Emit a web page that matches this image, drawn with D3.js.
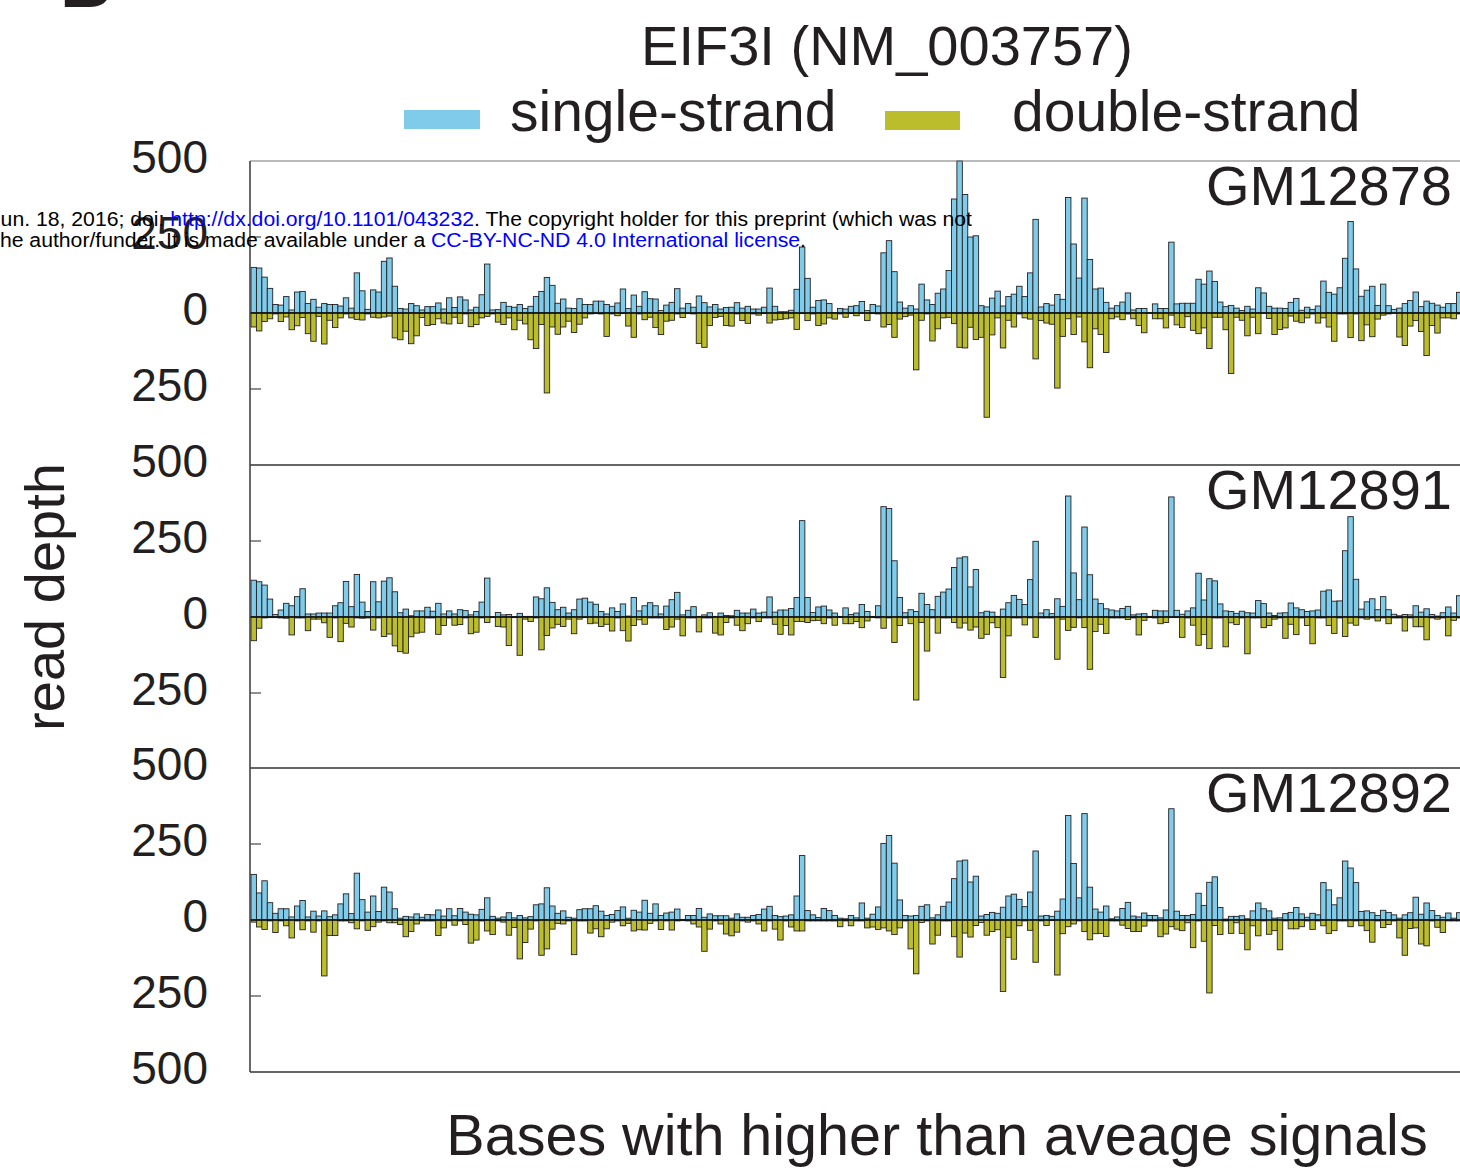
<!DOCTYPE html>
<html>
<head>
<meta charset="utf-8">
<script src="https://cdn.jsdelivr.net/npm/d3@7"></script>
<style>
body { margin: 0; background: #fff; }
svg { display: block; font-family: "Liberation Sans", Arial, sans-serif; }
</style>
</head>
<body>
<div id="chart"></div>
<script>
// read depth per base, one value per bar, three cell lines
const samples = ["GM12878", "GM12891", "GM12892"]
const seriesNames = ["single-strand", "double-strand"]

const ss1 = [150,148,118,81,28,26,54,10,69,71, 31,45,19,31,28,28,23,50,16,132, 73,12,76,69,170,181,88,15,13,31,
  24,10,21,21,33,13,50,18,53,43, 10,19,60,161,10,11,35,22,19,28, 15,22,54,71,117,91,32,46,16,15,
  47,28,28,39,39,28,22,33,79,15, 59,22,70,47,46,8,26,35,80,16, 31,19,56,34,20,28,13,18,19,34,
  16,22,13,13,19,82,22,4,4,9, 78,217,114,19,41,43,31,1,15,13, 22,24,38,8,28,23,198,238,136,36,
  16,24,13,95,43,28,65,79,140,375, 500,390,250,254,24,20,49,72,23,54, 62,88,54,132,308,20,31,26,61,45,
  380,227,115,378,176,79,82,35,16,24, 36,66,10,15,15,1,30,15,15,233, 30,32,32,32,111,95,138,104,36,21,
  25,16,8,22,13,83,66,22,16,16, 15,35,48,9,19,12,23,105,68,62, 83,180,301,145,55,75,88,25,95,24,
  12,16,31,41,69,21,39,32,26,19, 31,31,68]
const ds1 = [46,59,28,19,3,28,13,55,42,15, 68,93,11,102,24,48,16,3,16,21, 23,3,14,16,13,10,82,88,60,101,
  75,15,41,38,19,33,36,14,34,3, 45,38,16,11,3,30,38,16,55,24, 36,88,117,38,263,46,70,46,27,64,
  37,16,3,2,3,77,3,9,2,43, 80,3,22,14,48,71,27,24,3,15, 2,3,100,113,41,15,11,41,43,3,
  25,34,3,7,2,33,23,21,19,16, 54,2,25,3,41,36,16,20,3,14, 2,9,1,25,2,3,46,38,80,20,
  12,7,187,24,3,92,52,16,14,35, 113,115,47,87,80,343,72,16,115,24, 46,3,16,20,151,25,33,37,247,77,
  19,71,13,95,180,52,71,130,19,13, 22,3,19,41,65,1,19,19,49,7, 39,48,12,57,68,49,117,14,14,55,
  199,14,24,75,14,68,1,18,71,54, 49,10,27,32,16,3,33,16,46,93, 3,3,81,3,91,39,78,20,7,3,
  1,79,107,43,25,61,140,41,66,16, 16,19,3]

const ss2 = [121,116,105,59,8,23,45,37,67,93, 10,10,13,13,13,37,47,117,34,140, 49,18,116,50,118,129,83,14,26,4,
  20,20,32,19,45,10,20,10,24,21, 7,18,49,128,1,15,7,8,1,12, 2,2,66,60,96,48,24,32,13,24,
  59,62,49,42,18,10,30,18,43,3, 64,20,37,47,37,10,36,57,81,7, 22,34,2,7,14,2,13,5,4,22,
  13,13,26,13,16,66,16,23,23,28, 64,317,64,15,33,36,23,13,2,30, 8,13,41,18,2,37,363,357,185,64,
  14,24,18,78,41,24,68,82,92,163, 194,198,99,156,14,19,16,2,26,47, 71,58,41,123,249,13,24,11,60,35,
  398,145,57,296,139,59,44,27,23,20, 28,35,7,10,11,2,22,20,20,395, 22,9,20,30,144,56,126,119,43,20,
  18,12,19,14,13,54,44,13,5,13, 14,46,30,24,18,20,23,85,89,52, 53,218,330,124,26,50,60,24,67,24,
  9,4,8,7,37,16,27,8,3,14, 33,13,70]
const ds2 = [78,37,3,2,2,3,4,59,3,3, 45,7,7,19,67,3,81,21,33,3, 4,3,43,3,64,56,95,114,119,65,
  53,50,3,3,57,28,3,27,25,3, 55,50,3,18,2,31,33,94,2,126, 7,15,3,108,61,36,24,31,7,55,
  7,2,22,20,31,24,46,3,45,79, 28,9,24,3,3,3,41,33,7,62, 3,3,49,3,3,53,59,18,3,27,
  45,22,3,15,3,3,24,57,28,59, 15,15,18,12,11,22,3,27,2,22, 22,15,35,13,2,3,37,3,84,28,
  3,22,273,18,112,3,53,3,3,18, 36,20,43,33,70,57,19,35,199,62, 3,3,26,3,67,3,3,3,139,7,
  44,34,3,35,172,48,24,54,3,3, 3,8,3,59,11,2,3,22,18,2, 2,67,3,27,93,58,104,3,3,98,
  19,25,3,121,3,3,35,28,7,3, 70,24,58,3,28,88,3,3,28,54, 3,64,20,27,3,7,3,13,3,22,
  3,3,46,3,32,32,75,3,7,3, 62,11,3]

const ss3 = [150,89,129,57,22,37,37,10,46,64, 10,29,13,30,11,17,53,86,21,154, 67,26,79,28,108,92,37,6,12,10,
  20,9,18,17,33,13,37,14,38,26, 19,17,35,73,12,6,10,24,7,15, 7,11,50,53,106,46,22,30,9,6,
  34,37,37,47,29,15,18,31,43,6, 32,26,65,22,53,15,23,26,36,2, 15,15,38,9,20,14,14,14,6,20,
  9,9,15,18,36,45,15,11,13,17, 79,212,31,17,8,38,31,15,6,4, 15,7,56,6,19,43,252,278,187,66,
  15,13,15,45,50,7,17,45,59,136, 194,197,125,144,13,18,25,22,42,79, 85,68,44,92,227,13,15,12,29,69,
  344,186,73,350,108,36,26,46,4,10, 38,58,13,10,23,15,15,7,33,366, 29,15,15,18,88,48,124,142,41,3,
  12,12,14,4,30,56,37,30,6,7, 21,25,41,20,9,22,17,123,99,50, 73,194,171,123,28,30,24,15,32,25,
  17,6,17,24,75,19,56,31,15,9, 23,6,24]
const ds3 = [7,23,31,3,41,3,19,59,3,32, 3,40,3,184,51,51,3,3,9,29, 3,34,22,7,3,9,9,15,55,38,
  13,3,3,3,51,26,3,17,3,15, 76,66,3,36,48,3,7,50,25,128, 74,30,3,116,95,30,11,13,3,114,
  3,3,43,29,55,29,7,3,19,11, 36,32,33,11,3,31,3,33,3,2, 3,13,23,103,30,3,13,46,52,40,
  3,7,3,13,36,3,30,66,3,23, 36,36,3,3,3,3,3,3,22,3, 19,3,3,26,23,31,26,36,48,26,
  3,95,177,8,3,79,50,3,3,55, 122,43,56,18,8,50,38,32,235,57, 129,19,3,34,139,3,18,2,181,45,
  22,13,3,38,65,45,44,54,3,3, 17,28,38,38,20,3,3,55,46,22, 30,35,9,91,3,70,240,18,48,3,
  44,9,44,98,19,52,3,47,35,98, 3,29,29,22,3,31,3,19,44,35, 3,3,22,3,19,35,73,3,25,15,
  3,59,116,28,26,79,85,3,24,41, 3,3,3]

const tickValues = [500, 250, 0, -250, -500]

const panels = [
  {name: samples[0], ss: ss1, ds: ds1},
  {name: samples[1], ss: ss2, ds: ds2},
  {name: samples[2], ss: ss3, ds: ds3}
]

const W = 1460, H = 1169
const left = 250, right = 1460
const panelTop = [161, 465, 768], panelH = 304
const blue = "#80cbea", olive = "#bcbd2c", ink = "#231f20"

const svg = d3.select("#chart").append("svg")
  .attr("width", W)
  .attr("height", H)
  .attr("viewBox", `0 0 ${W} ${H}`)

const x = d3.scaleBand()
  .domain(d3.range(ss1.length))
  .range([251, 251 + ss1.length * 5.43])
  .paddingInner(0)

svg.append("clipPath").attr("id", "plotclip")
  .append("rect").attr("x", left).attr("y", 150).attr("width", right - left).attr("height", 930)

panels.forEach(function(p, k) {
  const top = panelTop[k]
  const y = d3.scaleLinear().domain([-500, 500]).range([top + panelH, top])
  const g = svg.append("g").attr("clip-path", "url(#plotclip)")

  g.selectAll("rect.ss")
    .data(p.ss)
    .enter().append("rect")
    .attr("class", "ss")
    .attr("x", (d, i) => x(i))
    .attr("y", d => y(d))
    .attr("width", x.bandwidth())
    .attr("height", d => y(0) - y(d))
    .attr("fill", blue)
    .attr("stroke", "#222")
    .attr("stroke-width", 0.9)

  g.selectAll("rect.ds")
    .data(p.ds)
    .enter().append("rect")
    .attr("class", "ds")
    .attr("x", (d, i) => x(i))
    .attr("y", y(0))
    .attr("width", x.bandwidth())
    .attr("height", d => y(-d) - y(0))
    .attr("fill", olive)
    .attr("stroke", "#222")
    .attr("stroke-width", 0.9)

  // zero line
  svg.append("line")
    .attr("x1", left).attr("x2", right)
    .attr("y1", y(0)).attr("y2", y(0))
    .attr("stroke", "#111").attr("stroke-width", 1.6)

  // inward ticks at +-250
  svg.selectAll(null)
    .data([250, -250])
    .enter().append("line")
    .attr("x1", left).attr("x2", left + 11)
    .attr("y1", d => y(d)).attr("y2", d => y(d))
    .attr("stroke", "#444").attr("stroke-width", 1.2)

  const labels = k === panels.length - 1 ? tickValues : tickValues.slice(0, 4)
  svg.selectAll(null)
    .data(labels)
    .enter().append("text")
    .attr("x", 208)
    .attr("y", d => y(d) - 4)
    .attr("dy", "0.35em")
    .attr("text-anchor", "end")
    .attr("font-size", 46)
    .attr("fill", ink)
    .text(d => Math.abs(d))

  svg.append("text")
    .attr("x", 1452)
    .attr("y", top + 44)
    .attr("text-anchor", "end")
    .attr("font-size", 56)
    .attr("fill", ink)
    .text(p.name)
})

// frame lines
svg.append("line").attr("x1", left).attr("x2", right).attr("y1", panelTop[0]).attr("y2", panelTop[0])
  .attr("stroke", "#777").attr("stroke-width", 1.2)
;[465, 768, 1072].forEach(function(v) {
  svg.append("line").attr("x1", left).attr("x2", right).attr("y1", v).attr("y2", v)
    .attr("stroke", "#333").attr("stroke-width", 1.6)
})
svg.append("line").attr("x1", left).attr("x2", left).attr("y1", panelTop[0]).attr("y2", 1072)
  .attr("stroke", "#444").attr("stroke-width", 1.6)

// title and legend
svg.append("text").attr("x", 887).attr("y", 65).attr("text-anchor", "middle")
  .attr("font-size", 56).attr("fill", ink).text("EIF3I (NM_003757)")

const legend = svg.append("g")
legend.append("rect").attr("x", 404).attr("y", 110).attr("width", 76).attr("height", 19).attr("fill", blue)
legend.append("text").attr("x", 510).attr("y", 131).attr("font-size", 57).attr("fill", ink).text(seriesNames[0])
legend.append("rect").attr("x", 885).attr("y", 111).attr("width", 75).attr("height", 19).attr("fill", olive)
legend.append("text").attr("x", 1012).attr("y", 131).attr("font-size", 57).attr("fill", ink).text(seriesNames[1])

// axis titles
svg.append("text")
  .attr("transform", "translate(64,597) rotate(-90)")
  .attr("text-anchor", "middle")
  .attr("font-size", 56).attr("fill", ink)
  .text("read depth")

svg.append("text").attr("x", 937).attr("y", 1155).attr("text-anchor", "middle")
  .attr("font-size", 57.5).attr("fill", ink)
  .text("Bases with higher than aveage signals")

// panel letter, cut by the page edge
svg.append("text").attr("x", 60).attr("y", 7).attr("font-size", 72).attr("font-weight", "bold")
  .attr("fill", ink).text("B")

// preprint watermark, clipped at the left page edge as in the source
const wm1 = svg.append("text").attr("x", -10).attr("y", 226).attr("font-size", 20)
  .attr("fill", "#000").attr("textLength", 982).attr("lengthAdjust", "spacingAndGlyphs")
wm1.append("tspan").text("Jun. 18, 2016; doi: ")
wm1.append("tspan").attr("fill", "#0000ff").text("http://dx.doi.org/10.1101/043232")
wm1.append("tspan").text(". The copyright holder for this preprint (which was not")

const wm2 = svg.append("text").attr("x", -6).attr("y", 247).attr("font-size", 20)
  .attr("fill", "#000").attr("textLength", 812).attr("lengthAdjust", "spacingAndGlyphs")
wm2.append("tspan").text("the author/funder. It is made available under a ")
wm2.append("tspan").attr("fill", "#0000ff").text("CC-BY-NC-ND 4.0 International license")
wm2.append("tspan").text(".")
</script>
</body>
</html>
